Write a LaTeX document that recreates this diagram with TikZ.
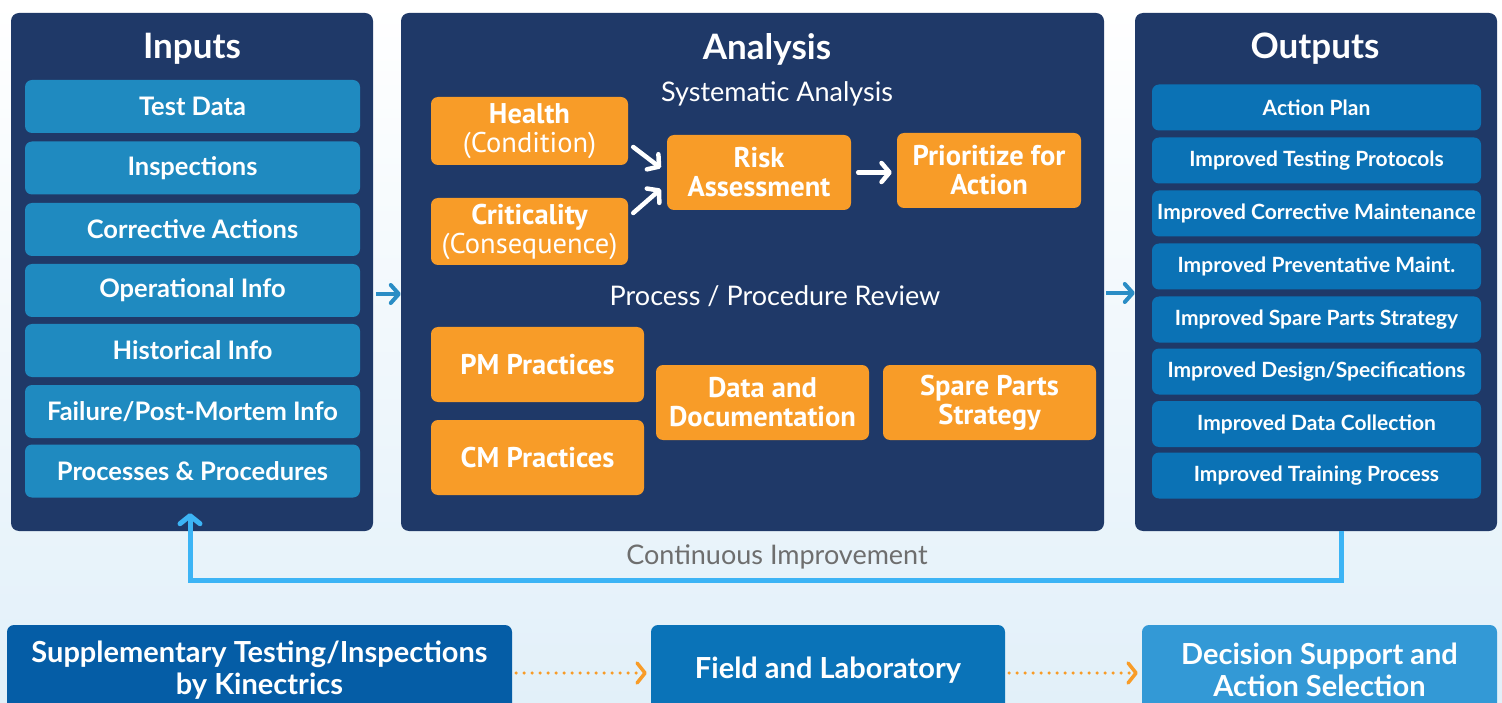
\documentclass[tikz,border=0pt]{standalone}
\usepackage{fontspec}
\setmainfont{Lato}
\newfontfamily\narrowfont{PT Sans}
\usetikzlibrary{arrows.meta}
\definecolor{navy}{HTML}{1F3968}
\definecolor{inblue}{HTML}{1F8AC0}
\definecolor{outblue}{HTML}{0B72B5}
\definecolor{orng}{HTML}{F89C28}
\definecolor{supblue}{HTML}{055DA6}
\definecolor{fieldblue}{HTML}{0A73B8}
\definecolor{decblue}{HTML}{3399D6}
\definecolor{loopblue}{HTML}{3CB4F5}
\definecolor{linkblue}{HTML}{2A8DC5}
\definecolor{bgblue}{HTML}{E2F0F9}
\definecolor{loopgray}{HTML}{6E6E6E}
\begin{document}
\begin{tikzpicture}[x=1pt,y=-1pt,
  panel/.style={fill=navy,rounded corners=8pt,minimum width=362pt,minimum height=518pt,inner sep=0pt},
  ttl/.style={text=white,font=\fontsize{35}{38}\selectfont\bfseries},
  sub/.style={text=white,font=\fontsize{27}{30}\selectfont},
  inbox/.style={fill=inblue,rounded corners=7pt,minimum width=335pt,minimum height=53pt,inner sep=0pt,text=white,font=\fontsize{25.5}{28}\selectfont\bfseries},
  outbox/.style={fill=outblue,rounded corners=7pt,minimum width=329pt,minimum height=46pt,inner sep=0pt,text=white,font=\fontsize{21}{24}\selectfont\bfseries},
  obox/.style={fill=orng,rounded corners=7pt,inner sep=0pt,align=center,text=white,font=\narrowfont\fontsize{28.5}{29}\selectfont\bfseries},
  bbox/.style={rounded corners=7pt,minimum height=90pt,inner sep=0pt,align=center,text=white,font=\fontsize{29}{32}\selectfont\bfseries},
  warrow/.style={draw=white,line width=4.5pt,line cap=round,-{Straight Barb[length=8pt,width=19pt,round]}},
  barrow/.style={draw=linkblue,line width=4pt,-{Straight Barb[length=8pt,width=18pt,round]}},
  loopline/.style={draw=loopblue,line width=5pt,-{Straight Barb[length=8pt,width=20pt,round]}},
  oarrow/.style={draw=orng,line width=3.5pt,dash pattern=on 0pt off 8pt,line cap=round,-{Straight Barb[length=8pt,width=20pt,round]}}]
\clip (0,0) rectangle (1502,703);
\fill[top color=white,bottom color=bgblue] (0,0) rectangle (1502,703);
\node[panel] (inputs) at (192,272) {};
\node[panel,minimum width=703pt] (analysis) at (752.5,272) {};
\node[panel] (outputs) at (1316,272) {};
\node[ttl] (intitle) at (192,49) {Inputs};
\node[ttl] (antitle) at (767,49) {Analysis};
\node[ttl] (outtitle) at (1315,49) {Outputs};
\node[inbox] (in1) at (192.5,106.5) {Test Data};
\node[inbox] (in2) at (192.5,168) {Inspections};
\node[inbox] (in3) at (192.5,229.5) {Corrective Actions};
\node[inbox] (in4) at (192.5,290.5) {Operational Info};
\node[inbox] (in5) at (192.5,350.5) {Historical Info};
\node[inbox] (in6) at (192.5,411.5) {Failure/Post-Mortem Info};
\node[inbox] (in7) at (192.5,471) {Processes \& Procedures};
\node[sub] (sys) at (777,94) {Systematic Analysis};
\node[obox,minimum width=197pt,minimum height=68pt] (health) at (529.5,131) {Health\\\mdseries(Condition)};
\node[obox,minimum width=197pt,minimum height=67pt] (crit) at (529.5,231.5) {Criticality\\\mdseries(Consequence)};
\node[obox,minimum width=184pt,minimum height=75pt] (risk) at (759,172.5) {Risk\\Assessment};
\node[obox,minimum width=184pt,minimum height=75pt] (prior) at (989,170.5) {Prioritize for\\Action};
\node[sub] (review) at (775,296) {Process / Procedure Review};
\node[obox,minimum width=213pt,minimum height=75pt] (pm) at (537.5,364.5) {PM Practices};
\node[obox,minimum width=213pt,minimum height=75pt] (cm) at (537.5,457.5) {CM Practices};
\node[obox,minimum width=213pt,minimum height=75pt] (docs) at (762.5,402.5) {Data and\\Documentation};
\node[obox,minimum width=213pt,minimum height=75pt] (spare) at (989.5,402.5) {Spare Parts\\Strategy};
\node[outbox] (out1) at (1316.5,107.5) {Action Plan};
\node[outbox] (out2) at (1316.5,160.5) {Improved Testing Protocols};
\node[outbox] (out3) at (1316.5,213.5) {Improved Corrective Maintenance};
\node[outbox] (out4) at (1316.5,266.5) {Improved Preventative Maint.};
\node[outbox] (out5) at (1316.5,319.5) {Improved Spare Parts Strategy};
\node[outbox] (out6) at (1316.5,371.5) {Improved Design/Specifications};
\node[outbox] (out7) at (1316.5,424) {Improved Data Collection};
\node[outbox] (out8) at (1316.5,475.5) {Improved Training Process};
\node[text=loopgray,font=\fontsize{27}{30}\selectfont] (ci) at (777,557) {Continuous Improvement};
\node[bbox,fill=supblue,minimum width=505pt] (sup) at (259.5,670) {Supplementary Testing/Inspections\\by Kinectrics};
\node[bbox,fill=fieldblue,minimum width=354pt] (field) at (828,670) {Field and Laboratory};
\node[bbox,fill=decblue,minimum width=355pt] (dec) at (1319.5,670) {Decision Support and\\Action Selection};
\draw[warrow] ([xshift=5pt,yshift=-16pt]health.east) -- ([xshift=-6pt,yshift=4.5pt]risk.west);
\draw[warrow] ([xshift=5pt,yshift=18.5pt]crit.east) -- ([xshift=-6pt,yshift=-16.5pt]risk.west);
\draw[warrow,shorten <=7pt,shorten >=5pt] (risk.east) -- (risk.east -| prior.west);
\draw[barrow] ([xshift=3pt,yshift=-22pt]inputs.east) -- ([yshift=-22pt]analysis.west);
\draw[barrow] ([xshift=2pt,yshift=-21pt]analysis.east) -- ([yshift=-21pt]outputs.west);
\draw[loopline] ([xshift=25pt]outputs.south) |- ([xshift=-2pt,yshift=-49pt]inputs.south) -- ([xshift=-2pt,yshift=18pt]inputs.south);
\draw[oarrow,shorten <=4pt,shorten >=4pt] ([yshift=-3pt]sup.east) -- ([yshift=-3pt]field.west);
\draw[oarrow,shorten <=4pt,shorten >=4pt] ([yshift=-3pt]field.east) -- ([yshift=-3pt]dec.west);
\end{tikzpicture}
\end{document}
